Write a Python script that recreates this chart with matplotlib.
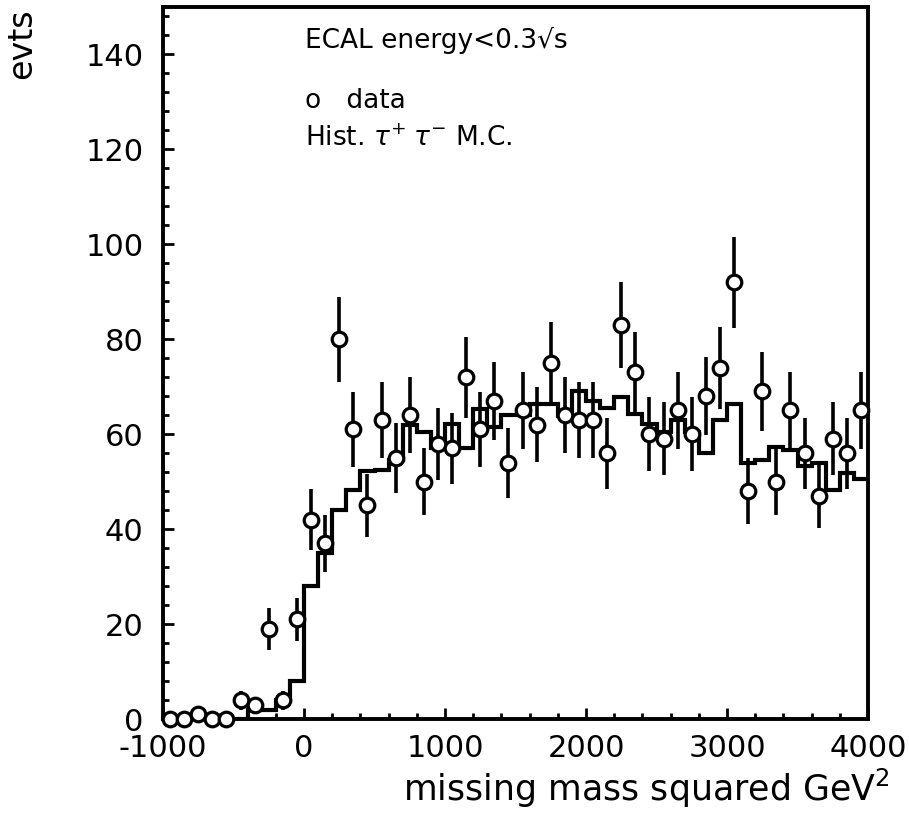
import matplotlib
matplotlib.use("Agg")
import matplotlib.pyplot as plt
import numpy as np
from matplotlib.ticker import MultipleLocator

# bin edges of the histogram (GeV^2)
bin_edges = np.arange(-1000, 4001, 100)

# data points (counts per bin) and their error bars
data_counts = [0, 0, 1, 0, 0, 4, 3, 19, 4, 21,
               42, 37, 80, 61, 45, 63, 55, 64, 50, 58,
               57, 72, 61, 67, 54, 65, 62, 75, 64, 63,
               63, 56, 83, 73, 60, 59, 65, 60, 68, 74,
               92, 48, 69, 50, 65, 56, 47, 59, 56, 65]
data_errors = [0, 0, 1.0, 0, 0, 2.0, 1.73, 4.36, 2.0, 4.58,
               6.48, 6.08, 8.94, 7.81, 6.71, 7.94, 7.42, 8.0, 7.07, 7.62,
               7.55, 8.49, 7.81, 8.19, 7.35, 8.06, 7.87, 8.66, 8.0, 7.94,
               7.94, 7.48, 9.11, 8.54, 7.75, 7.68, 8.06, 7.75, 8.25, 8.6,
               9.59, 6.93, 8.31, 7.07, 8.06, 7.48, 6.86, 7.68, 7.48, 8.06]

# tau+ tau- Monte Carlo histogram
mc_counts = [0, 0, 0, 0, 0, 0, 2, 2, 4, 8,
             28, 35, 44, 48.3, 52.3, 52.5, 54.6, 62, 60.4, 57,
             62.2, 57, 65.4, 61.5, 64, 64, 66.4, 66.4, 63.9, 69,
             67, 65.5, 67.8, 64.3, 62.2, 60.4, 62.9, 60.4, 56.1, 62.9,
             66.4, 54, 54.5, 57.2, 56.7, 53.4, 53.9, 48.2, 51.8, 50.6]

xticks = [-1000, 0, 1000, 2000, 3000, 4000]
xticklabels = ['-1000', '0', '1000', '2000', '3000', '4000']
yticks = [0, 20, 40, 60, 80, 100, 120, 140]

plt.rcParams['font.family'] = ['DejaVu Sans']

fig = plt.figure(figsize=(9.09, 8.13), dpi=100)
ax = fig.add_axes([163/909, 1 - 719/813, (868-163)/909, (719-7)/813])

centers = 0.5 * (bin_edges[:-1] + bin_edges[1:])

ax.stairs(mc_counts, bin_edges, color='black', linewidth=3.0, baseline=None)

errs = np.array(data_errors)
ax.errorbar(centers, data_counts, yerr=errs, fmt='none', ecolor='black',
            elinewidth=2.6, capsize=0, clip_on=False, zorder=3)
ax.plot(centers, data_counts, 'o', markersize=10.5, markerfacecolor='white',
        markeredgecolor='black', markeredgewidth=2.3, clip_on=False, zorder=4)

ax.set_xlim(-1000, 4000)
ax.set_ylim(0, 150)
ax.set_xticks(xticks)
ax.set_xticklabels(xticklabels)
ax.set_yticks(yticks)
ax.xaxis.set_minor_locator(MultipleLocator(200))
ax.yaxis.set_minor_locator(MultipleLocator(4))
ax.tick_params(axis='both', which='both', direction='in', top=False, right=False)
ax.tick_params(axis='both', which='major', length=8, width=2, labelsize=22)
ax.tick_params(axis='both', which='minor', length=4, width=2)
ax.tick_params(axis='y', which='major', pad=14)
ax.tick_params(axis='x', which='major', pad=11)
for s in ax.spines.values():
    s.set_linewidth(2.8)

fig.text(890/909, 1 - 810/813, 'missing mass squared GeV$^{2}$', ha='right', va='bottom',
         fontsize=25)
fig.text(22/909, 1 - 8/813, 'evts', rotation=90, ha='center', va='top',
         fontsize=24)

tx = -1000 + (305 - 163) / 141.0 * 1000
ax.text(tx, 143, 'ECAL energy<0.3√s', fontsize=19, va='center', ha='left')
ax.text(tx, 130.3, 'o   data', fontsize=19, va='center', ha='left')
ax.text(tx, 122.3, 'Hist. $\\tau^{+}\\;\\tau^{-}$ M.C.', fontsize=19, va='center', ha='left')

fig.savefig('out.png', dpi=100)
